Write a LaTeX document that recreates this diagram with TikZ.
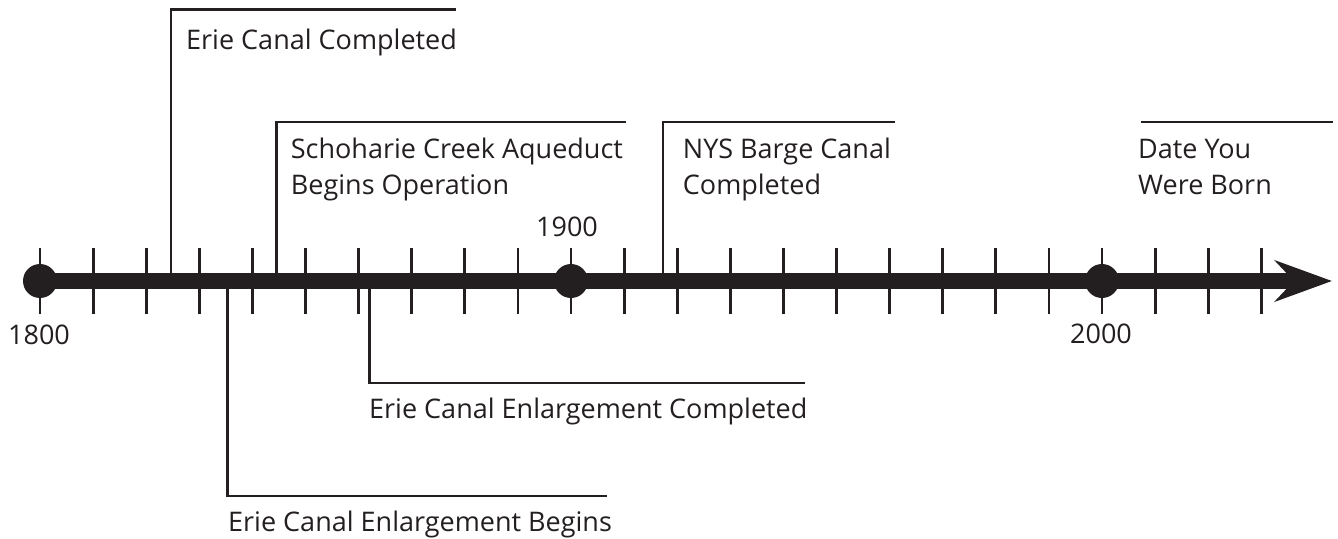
\documentclass[tikz,border=0pt]{standalone}
\usepackage{fontspec}
\setmainfont{Open Sans}
\usetikzlibrary{arrows.meta,positioning}
\definecolor{ink}{RGB}{35,31,32}
\tikzset{
  axisline/.style={ink,line width=16pt,-{Stealth[length=57pt,width=41pt,inset=19pt]}},
  tickmark/.style={ink,line width=2.8pt},
  eventline/.style={ink,line width=2.4pt},
  yeardot/.style={circle,fill=ink,inner sep=0pt,minimum size=34pt},
  eventlabel/.style={inner sep=0pt,text=ink,font=\fontsize{27}{36.7}\selectfont,align=left},
}

\begin{document}
\begin{tikzpicture}[x=1pt,y=1pt]
\useasboundingbox (-40,-257) rectangle (1298,281);
% the time axis
\coordinate (start) at (0,0);
\coordinate (tip) at (1292,0);
\draw[axisline] (start)--(tip);
\foreach \i in {0,...,23}
  \draw[tickmark] (\i*53.1,-33)--(\i*53.1,33);
\node[yeardot] (d1800) at (0,0) {};
\node[yeardot] (d1900) at (531,0) {};
\node[yeardot] (d2000) at (1062,0) {};
\node[eventlabel,anchor=base] (l1800) at (-1,-63) {1800};
\node[eventlabel,anchor=base] (l1900) at (527,44.3) {1900};
\node[eventlabel,anchor=base] (l2000) at (1061,-62) {2000};
% events above the axis
\coordinate (ecc) at (131,8);
\coordinate (eccend) at (415.7,271.3);
\draw[eventline] (ecc)|-(eccend);
\node[eventlabel,anchor=base west] (tecc) at (146,231) {Erie Canal Completed};
\coordinate (sca) at (236.5,8);
\coordinate (scaend) at (585.7,158.7);
\draw[eventline] (sca)|-(scaend);
\node[eventlabel,anchor=base west] (tsca) at (250.7,86) {Schoharie Creek Aqueduct\\Begins Operation};
\coordinate (nys) at (622.7,8);
\coordinate (nysend) at (855,158.7);
\draw[eventline] (nys)|-(nysend);
\node[eventlabel,anchor=base west] (tnys) at (642.7,86) {NYS Barge Canal\\Completed};
\coordinate (dyb) at (1101,158.7);
\coordinate (dybend) at (1292.7,158.7);
\draw[eventline] (dyb)--(dybend);
\node[eventlabel,anchor=base west] (tdyb) at (1098,86) {Date You\\Were Born};
% events below the axis
\coordinate (ceb) at (187.3,-8);
\coordinate (cebend) at (566.7,-215);
\draw[eventline] (ceb)|-(cebend);
\node[eventlabel,anchor=base west] (tceb) at (188,-250.7) {Erie Canal Enlargement Begins};
\coordinate (cec) at (329.3,-8);
\coordinate (cecend) at (765,-101.7);
\draw[eventline] (cec)|-(cecend);
\node[eventlabel,anchor=base west] (tcec) at (329,-137.3) {Erie Canal Enlargement Completed};
\end{tikzpicture}
\end{document}
